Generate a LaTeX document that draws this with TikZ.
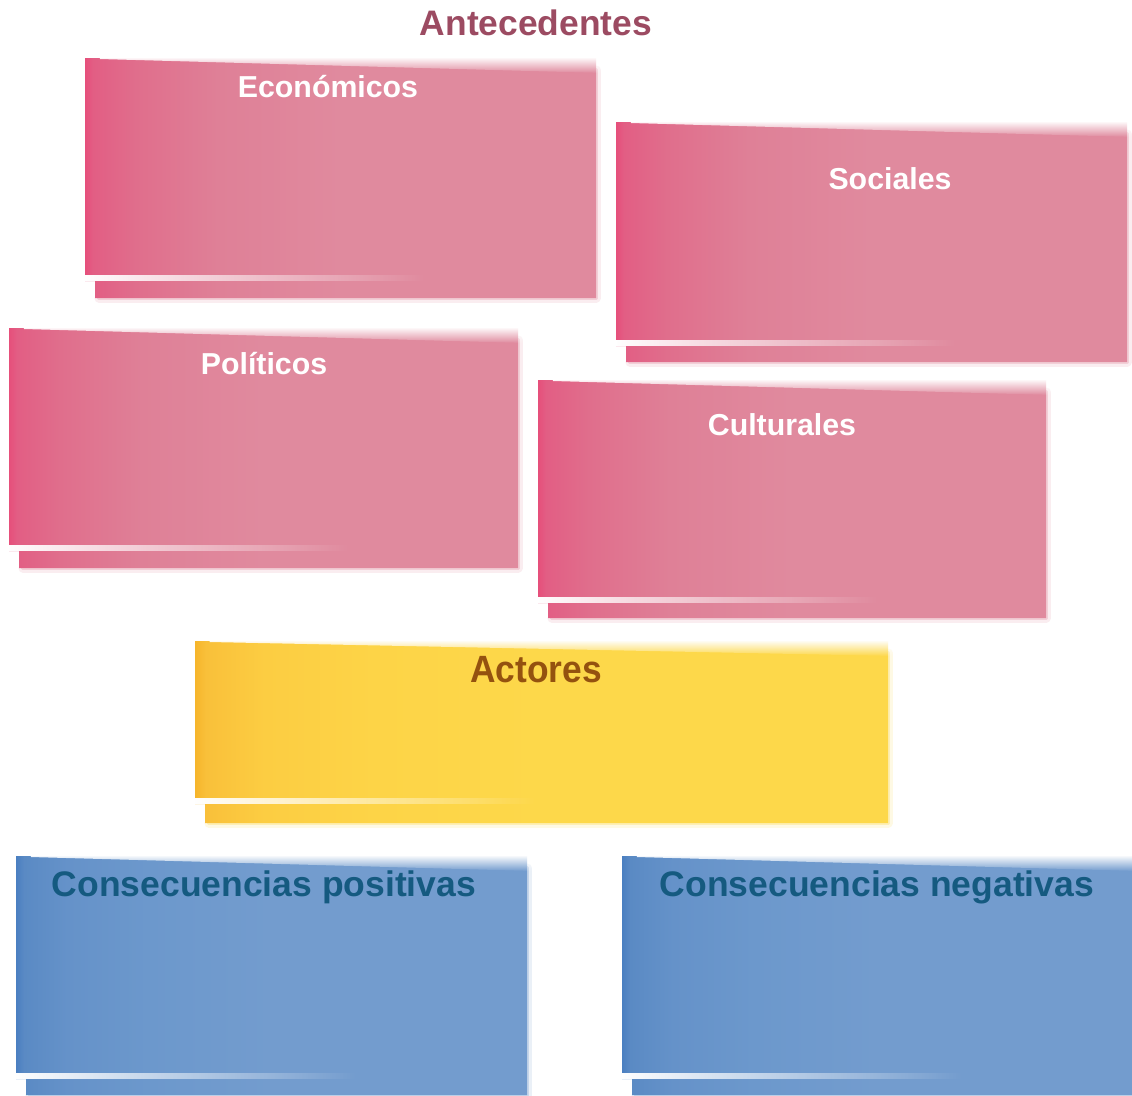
\documentclass[tikz,border=0pt]{standalone}
\usepackage{fontspec}
\setmainfont{Liberation Sans}
\newfontfamily\narrowsans{Liberation Sans}[FakeStretch=0.93]
\usetikzlibrary{fadings}
\definecolor{pkA}{HTML}{E64F7B}
\definecolor{pkB}{HTML}{E25E84}
\definecolor{pkC}{HTML}{E06E8C}
\definecolor{pkD}{HTML}{DF8097}
\definecolor{pkE}{HTML}{E08A9E}
\definecolor{ylA}{HTML}{F6B52B}
\definecolor{ylB}{HTML}{F9C03A}
\definecolor{ylC}{HTML}{FCCD42}
\definecolor{ylD}{HTML}{FDD447}
\definecolor{ylE}{HTML}{FDD84A}
\definecolor{blA}{HTML}{4A7FC1}
\definecolor{blB}{HTML}{5A8AC4}
\definecolor{blC}{HTML}{6592C9}
\definecolor{blD}{HTML}{6C98CC}
\definecolor{blE}{HTML}{739CCE}
\definecolor{titlecol}{HTML}{9C4B62}
\definecolor{actcol}{HTML}{94520F}
\definecolor{conscol}{HTML}{155A80}
\pgfdeclarehorizontalshading{pinkshade}{100bp}{color(0bp)=(pkA); color(25bp)=(pkA); color(25.8bp)=(pkB); color(30bp)=(pkC); color(38bp)=(pkD); color(50bp)=(pkE); color(100bp)=(pkE)}
\pgfdeclarehorizontalshading{yellowshade}{100bp}{color(0bp)=(ylA); color(25bp)=(ylA); color(25.8bp)=(ylB); color(30bp)=(ylC); color(38bp)=(ylD); color(50bp)=(ylE); color(100bp)=(ylE)}
\pgfdeclarehorizontalshading{blueshade}{100bp}{color(0bp)=(blA); color(25bp)=(blA); color(25.8bp)=(blB); color(30bp)=(blC); color(38bp)=(blD); color(50bp)=(blE); color(100bp)=(blE)}
% #1 L, #2 T, #3 R, #4 main bottom, #5 strip bottom, #6 shading, #7 edge colour
\newcommand\softbox[7]{%
  \draw[#7, opacity=0.15, line width=9pt, line join=round, line cap=round]
    (#3,#2+12) -- (#3,#5) -- (#1+14,#5);
  \draw[#7, opacity=0.3, line width=4pt, line join=round, line cap=round]
    (#3,#2+12) -- (#3,#5) -- (#1+14,#5);
  \shade[shading=#6] (#1,#2) -- (#3,#2) -- (#3,#5) -- (#1+10,#5)
    -- (#1+10,#4+6) -- (#1,#4+6) -- cycle;
  \fill[white, path fading=south] (#1+15,#2-1) -- (#3+6,#2-1) -- (#3+6,#2+15) -- (#1+15,#2+1) -- cycle;
  \fill[white, path fading=east] (#1,#4) rectangle (#1+340,#4+6);
}
\tikzset{
  pinklabel/.style={anchor=base, text=white, font=\bfseries\fontsize{30.3}{36}\selectfont, inner sep=0pt},
  bluelabel/.style={anchor=base, text=conscol, font=\bfseries\fontsize{35.5}{42}\selectfont, inner sep=0pt},
  actlabel/.style={anchor=base, text=actcol, font=\narrowsans\bfseries\fontsize{38}{44}\selectfont, inner sep=0pt},
  titlelabel/.style={anchor=base, text=titlecol, font=\bfseries\fontsize{35.4}{42}\selectfont, inner sep=0pt}
}
\begin{document}
\begin{tikzpicture}[x=1pt, y=-1pt]
\useasboundingbox (0,0) rectangle (1132,1095);
\fill[white] (0,0) rectangle (1132,1095);
% boxes
\softbox{85}{58}{596}{275}{298}{pinkshade}{pkE}
\softbox{616}{122}{1127}{340}{362}{pinkshade}{pkE}
\softbox{9}{328}{518}{545}{568}{pinkshade}{pkE}
\softbox{538}{380}{1046}{597}{618}{pinkshade}{pkE}
\softbox{195}{641}{888}{798}{823}{yellowshade}{ylE}
\softbox{16}{856}{527}{1073}{1095}{blueshade}{blE}
\softbox{622}{856}{1132}{1073}{1095}{blueshade}{blE}
% labels
\node[titlelabel] (ante) at (536,35) {Antecedentes};
\node[pinklabel] (econ) at (328,97) {Económicos};
\node[pinklabel] (soc) at (890,189) {Sociales};
\node[pinklabel] (pol) at (264,374) {Políticos};
\node[pinklabel] (cult) at (782,435) {Culturales};
\node[actlabel] (act) at (536,682) {Actores};
\node[bluelabel] (pos) at (264,896) {Consecuencias positivas};
\node[bluelabel] (neg) at (877,896) {Consecuencias negativas};
\end{tikzpicture}
\end{document}
